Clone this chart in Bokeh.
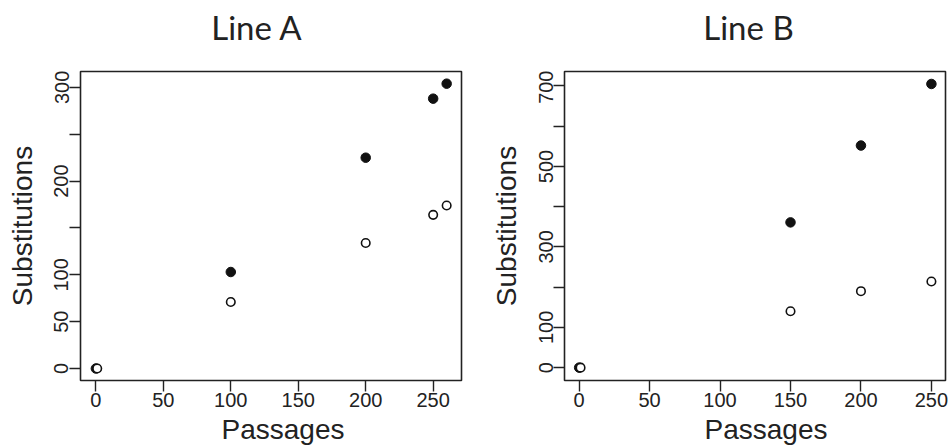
from bokeh.plotting import figure
from bokeh.layouts import row, column
from bokeh.models import Range1d, FixedTicker, Title
from bokeh.core.properties import value
from bokeh.embed import file_html
from bokeh.resources import INLINE

# ---- data ----
titles = ["Line A", "Line B"]

a_passages = [0, 100, 200, 250, 260]
a_open_passages = [1, 100, 200, 250, 260]
a_filled = [0, 103, 225, 288, 304]
a_open = [0, 71, 134, 164, 174]
a_xticks = [0, 50, 100, 150, 200, 250]
a_yticks = [0, 50, 100, 150, 200, 250, 300]
a_ylabels = {150: "", 250: ""}

b_passages = [0, 150, 200, 250]
b_open_passages = [1, 150, 200, 250]
b_filled = [0, 361, 552, 705]
b_open = [0, 140, 190, 214]
b_xticks = [0, 50, 100, 150, 200, 250]
b_yticks = [0, 100, 200, 300, 400, 500, 600, 700]
b_ylabels = {200: "", 400: "", 600: ""}

x_label = "Passages"
y_label = "Substitutions"

TICK_FONT = "Liberation Sans"
TITLE_FONT = "Lato"
INK = "#222222"

W, TOP_H, H = 474, 70, 376

# ---- title strip (one canvas spanning both panels, pixel coordinates from top) ----
tp = figure(width=2 * W, height=TOP_H, output_backend="svg", toolbar_location=None,
            x_range=Range1d(0, 2 * W), y_range=Range1d(TOP_H, 0),
            min_border=0, outline_line_color=None)
tp.axis.visible = False
tp.grid.visible = False
tp.text(x=[256.5, 748], y=[6, 6], text=titles,
        text_font=value(TITLE_FONT), text_font_size="33px", text_color=INK,
        text_align="center", text_baseline="top")


def panel(xs, xo, yf, yo, xticks, yticks, yover, xr, yr, bl, br, xlab_dx):
    p = figure(width=W, height=H, output_backend="svg", toolbar_location=None,
               x_range=Range1d(*xr), y_range=Range1d(*yr),
               min_border_left=bl, min_border_right=br,
               min_border_top=1, min_border_bottom=66)
    p.xgrid.visible = False
    p.ygrid.visible = False
    p.outline_line_color = INK
    p.outline_line_width = 1.6
    p.background_fill_color = "white"
    p.border_fill_color = "white"
    for ax in (p.xaxis[0], p.yaxis[0]):
        ax.axis_line_color = None
        ax.major_tick_line_color = INK
        ax.major_tick_line_width = 1.4
        ax.major_tick_out = 11
        ax.major_tick_in = 0
        ax.minor_tick_line_color = None
        ax.major_label_text_font = TICK_FONT
        ax.major_label_text_font_size = "20px"
        ax.major_label_text_color = INK
        ax.major_label_standoff = 1
        ax.major_label_text_line_height = 0.9
    yax = p.yaxis[0]
    yax.axis_label = y_label
    yax.axis_label_text_font = TICK_FONT
    yax.axis_label_text_font_size = "28px"
    yax.axis_label_text_font_style = "normal"
    yax.axis_label_text_color = INK
    yax.axis_label_text_line_height = 0.9
    yax.axis_label_standoff = 14
    p.add_layout(Title(text=x_label, text_font=TICK_FONT, text_font_size="28px",
                       text_font_style="normal", text_color=INK, align="left",
                       offset=xlab_dx, standoff=4, text_line_height=0.9), "below")
    p.xaxis[0].ticker = FixedTicker(ticks=xticks)
    p.yaxis[0].ticker = FixedTicker(ticks=yticks)
    p.yaxis[0].major_label_overrides = yover
    p.yaxis[0].major_label_orientation = "vertical"

    p.scatter(xs, yf, marker="circle", size=9.5, fill_color="#111111", line_color="#111111")
    p.scatter(xo, yo, marker="circle", size=8.5, fill_color="white", line_color="#111111", line_width=1.6)
    return p


pa = panel(a_passages, a_open_passages, a_filled, a_open, a_xticks, a_yticks,
           a_ylabels, (-11.4, 271), (-12.8, 317), 80, 13, 141)
pb = panel(b_passages, b_open_passages, b_filled, b_open, b_xticks, b_yticks,
           b_ylabels, (-10.4, 260), (-32, 736), 90, 3, 140)

layout = column(tp, row(pa, pb))
open("out.html", "w").write(file_html(layout, INLINE))
